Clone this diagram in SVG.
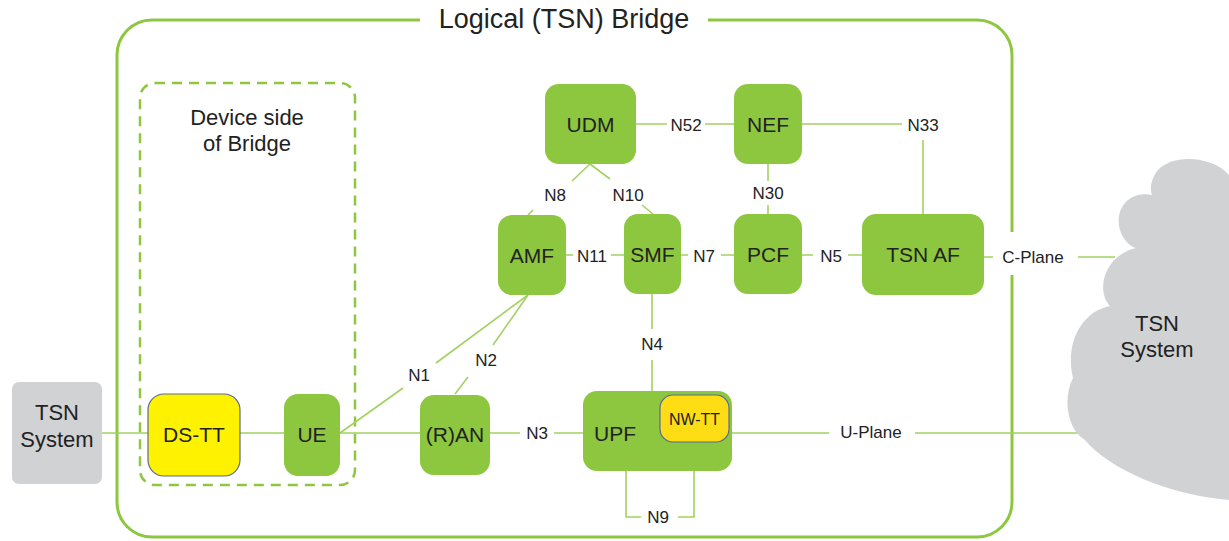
<svg xmlns="http://www.w3.org/2000/svg" width="1229" height="541" viewBox="0 0 1229 541">
<style>
text{font-family:"Liberation Sans",Arial,sans-serif;fill:#222;text-anchor:middle}
.node{fill:#8dc63f}
.tt{stroke:#5a6a90;stroke-width:1.2}
.sys{fill:#d1d2d4}
.lbl{font-size:21px}
.e{font-size:17px}
.big{font-size:22px}
.c{fill:none;stroke:#a3d161;stroke-width:1.6}
.frame{fill:none;stroke:#8dc63f;stroke-width:3}
</style>
<rect width="1229" height="541" fill="#fff"/>
<g id="bridge">
<path class="frame" d="M420 20 H152 A35 35 0 0 0 117 55 V502 A35 35 0 0 0 152 537 H977 A35 35 0 0 0 1012 502 V275"/>
<path class="frame" d="M1012 232 V55 A35 35 0 0 0 977 20 H708"/>
<text x="564" y="28" style="font-size:27px">Logical (TSN) Bridge</text>
</g>
<g id="device-side">
<rect x="140" y="83" width="215" height="402" rx="15" fill="none" stroke="#8dc63f" stroke-width="2.5" stroke-dasharray="10 7"/>
<text class="big" x="247" y="125">Device side</text>
<text class="big" x="247" y="151">of Bridge</text>
</g>
<g id="connectors">
<path class="c" d="M102 433 H148 M240 433 H284 M340 433 H420"/>
<path class="c" d="M340 433 L403 388 M436 363 L528 295"/>
<path class="c" d="M455 394 L468 377 M493 345 L528 295"/>
<path class="c" d="M490 433 H520 M554 433 H583"/>
<path class="c" d="M732 433 H829 M915 433 H1083"/>
<path class="c" d="M626 471 V517 H641 M678 517 H694 V471"/>
<path class="c" d="M652 294 V329 M652 360 V391"/>
<path class="c" d="M566 255 H573 M611 255 H624"/>
<path class="c" d="M681 255 H688 M721 255 H734"/>
<path class="c" d="M802 255 H813 M848 255 H862"/>
<path class="c" d="M984 257 H993 M1078 257 H1115"/>
<path class="c" d="M636 124 H667 M705 124 H734"/>
<path class="c" d="M802 124 H902 M923 140 V214"/>
<path class="c" d="M768 164 V181 M768 205 V214"/>
<path class="c" d="M590 164 L572 181 M533 210 L528 215"/>
<path class="c" d="M590 164 L610 179 M642 205 L653 214"/>
<text class="e" x="419" y="381">N1</text>
<text class="e" x="486" y="366">N2</text>
<text class="e" x="537" y="439">N3</text>
<text class="e" x="871" y="438">U-Plane</text>
<text class="e" x="658" y="523">N9</text>
<text class="e" x="652" y="350">N4</text>
<text class="e" x="592" y="262">N11</text>
<text class="e" x="704" y="262">N7</text>
<text class="e" x="831" y="262">N5</text>
<text class="e" x="1033" y="263">C-Plane</text>
<text class="e" x="686" y="131">N52</text>
<text class="e" x="923" y="131">N33</text>
<text class="e" x="768" y="199">N30</text>
<text class="e" x="555" y="201">N8</text>
<text class="e" x="628" y="201">N10</text>
</g>
<g id="tsn-system-left">
<rect class="sys" x="12" y="382" width="90" height="102" rx="7"/>
<text class="big" x="57" y="420">TSN</text>
<text class="big" x="57" y="447">System</text>
</g>
<g id="tsn-system-right">
<path class="sys" d="M1229 175 C1215 158 1175 152 1158 170 C1150 180 1150 190 1152 195 C1125 190 1112 215 1122 235 C1126 243 1132 247 1136 248 C1105 255 1095 290 1110 306 C1080 312 1065 345 1073 378 C1062 400 1068 430 1085 440 C1110 470 1170 495 1229 500 Z"/>
<text class="big" x="1157" y="331">TSN</text>
<text class="big" x="1157" y="357">System</text>
</g>
<g id="ds-tt">
<rect class="tt" x="148" y="394" width="92" height="82" rx="16" fill="#fff200"/>
<text class="lbl" x="194" y="442">DS-TT</text>
</g>
<g id="ue">
<rect class="node" x="284" y="394" width="56" height="82" rx="14"/>
<text class="lbl" x="312" y="442">UE</text>
</g>
<g id="ran">
<rect class="node" x="420" y="395" width="70" height="80" rx="14"/>
<text class="lbl" x="455" y="442">(R)AN</text>
</g>
<g id="upf">
<rect class="node" x="583" y="391" width="149" height="80" rx="14"/>
<text class="lbl" x="615" y="441">UPF</text>
</g>
<g id="nw-tt">
<rect class="tt" x="660" y="395" width="69" height="47" rx="13" fill="#ffdd15"/>
<text x="694.5" y="424.5" style="font-size:16px">NW-TT</text>
</g>
<g id="udm">
<rect class="node" x="545" y="84" width="91" height="80" rx="14"/>
<text class="lbl" x="590.5" y="131.5">UDM</text>
</g>
<g id="nef">
<rect class="node" x="734" y="84" width="68" height="80" rx="14"/>
<text class="lbl" x="768" y="131.5">NEF</text>
</g>
<g id="amf">
<rect class="node" x="498" y="215" width="68" height="80" rx="14"/>
<text class="lbl" x="532" y="262.5">AMF</text>
</g>
<g id="smf">
<rect class="node" x="624" y="214" width="57" height="80" rx="14"/>
<text class="lbl" x="652.5" y="261.5">SMF</text>
</g>
<g id="pcf">
<rect class="node" x="734" y="214" width="68" height="80" rx="14"/>
<text class="lbl" x="768" y="261.5">PCF</text>
</g>
<g id="tsn-af">
<rect class="node" x="862" y="214" width="122" height="81" rx="14"/>
<text class="lbl" x="923" y="262">TSN AF</text>
</g>
</svg>
